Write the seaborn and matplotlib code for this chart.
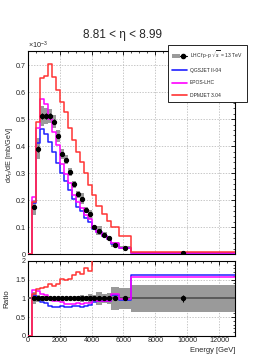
import numpy as np
import pandas as pd
import seaborn as sns
import matplotlib
matplotlib.use("Agg")
import matplotlib.pyplot as plt
from matplotlib.ticker import MultipleLocator, FuncFormatter
from matplotlib.patches import Patch
from matplotlib.lines import Line2D
from matplotlib.legend_handler import HandlerTuple

# ---------------- data ----------------
bin_edges = [0, 250, 500, 750, 1000, 1250, 1500, 1750, 2000, 2250, 2500, 2750,
             3000, 3250, 3500, 3750, 4000, 4250, 4650, 4950, 5200, 5700, 6500, 13000]

# LHCf data (x1e-3 mb/GeV), bins starting at 250 GeV
data_vals = [0.174, 0.391, 0.512, 0.512, 0.512, 0.491, 0.438, 0.372, 0.351, 0.306,
             0.260, 0.222, 0.206, 0.165, 0.148, 0.102, 0.088, 0.073, 0.060, 0.036,
             0.025, 0.003]
data_stat_rel = [0.04, 0.03, 0.02, 0.02, 0.02, 0.02, 0.02, 0.02, 0.02, 0.02,
                 0.02, 0.02, 0.02, 0.03, 0.03, 0.03, 0.04, 0.04, 0.04, 0.05,
                 0.05, 0.10]
data_sys_rel = [0.16, 0.10, 0.07, 0.06, 0.05, 0.05, 0.05, 0.05, 0.05, 0.05,
                0.05, 0.06, 0.10, 0.07, 0.12, 0.08, 0.18, 0.13, 0.14, 0.30,
                0.28, 0.37]

# model predictions (x1e-3 mb/GeV), all bins from 0 GeV
qgsjet = [0.0, 0.190, 0.411, 0.463, 0.445, 0.415, 0.378, 0.338, 0.300, 0.270, 0.239,
          0.205, 0.176, 0.160, 0.134, 0.121, 0.092, 0.081, 0.068, 0.056, 0.039,
          0.024, 0.0049]
epos = [0.0, 0.213, 0.466, 0.575, 0.558, 0.500, 0.452, 0.403, 0.335, 0.298, 0.263,
        0.221, 0.193, 0.173, 0.145, 0.129, 0.097, 0.082, 0.069, 0.056, 0.040,
        0.0245, 0.0047]
dpmjet = [0.0, 0.195, 0.490, 0.652, 0.662, 0.704, 0.655, 0.610, 0.565, 0.527, 0.466,
          0.423, 0.380, 0.343, 0.300, 0.257, 0.220, 0.180, 0.148, 0.125, 0.102,
          0.068, 0.009]

models = ["QGSJET II-04", "EPOS-LHC", "DPMJET 3.04"]
model_colors = ["#1f1fff", "#ff00ff", "#ff3333"]
title = "8.81 < η < 8.99"

# ---------------- figure ----------------
sns.set_theme(style="white")
plt.rcParams["font.family"] = ["Liberation Sans", "DejaVu Sans"]
plt.rcParams["mathtext.fontset"] = "custom"
plt.rcParams["mathtext.rm"] = "Liberation Sans"
plt.rcParams["mathtext.it"] = "Liberation Sans:italic"

edges = np.array(bin_edges, dtype=float)
centers = 0.5 * (edges[:-1] + edges[1:])
d = np.array(data_vals)
dcent = centers[1:]
dwidth = np.diff(edges)[1:]
stat = d * np.array(data_stat_rel)
sys_ = d * np.array(data_sys_rel)

fig = plt.figure(figsize=(2.77, 3.58), dpi=100)
ax1 = fig.add_axes([0.101, 0.2897, 0.747, 0.568])
ax2 = fig.add_axes([0.101, 0.0615, 0.747, 0.2095])

grey = "#9a9a9a"
lw = 1.1

# --- top panel ---
ax1.bar(dcent, 2 * sys_, bottom=d - sys_, width=dwidth, color=grey, linewidth=0, zorder=2)
for vals, col, name in zip([qgsjet, epos, dpmjet], model_colors, models):
    df = pd.DataFrame({"E": centers, "w": vals})
    sns.histplot(data=df, x="E", weights="w", bins=bin_edges, element="step",
                 fill=False, color=col, linewidth=lw, ax=ax1, zorder=3)
ax1.errorbar(dcent, d, yerr=stat, fmt="o", color="black", ms=2.8, elinewidth=0.8,
             capsize=0, zorder=5)

# --- ratio panel ---
ax2.bar(dcent, 2 * np.array(data_sys_rel), bottom=1 - np.array(data_sys_rel),
        width=dwidth, color=grey, linewidth=0, zorder=2)
ax2.axhline(1.0, color="#555555", lw=1.3, zorder=3)
for vals, col in zip([qgsjet, epos, dpmjet], model_colors):
    v = np.array(vals)
    r = np.concatenate([[0.0], v[1:] / d])
    df = pd.DataFrame({"E": centers, "w": r})
    sns.histplot(data=df, x="E", weights="w", bins=bin_edges, element="step",
                 fill=False, color=col, linewidth=lw, ax=ax2, zorder=4)
ax2.errorbar(dcent, np.ones_like(d), yerr=np.array(data_stat_rel), fmt="o", color="black",
             ms=2.8, elinewidth=0.8, capsize=0, zorder=5)

fmt = FuncFormatter(lambda v, p: f"{v:g}")
for ax in (ax1, ax2):
    ax.set_xlim(0, 13000)
    ax.xaxis.set_major_locator(MultipleLocator(2000))
    ax.xaxis.set_minor_locator(MultipleLocator(500))
    ax.tick_params(which="both", direction="in", top=True, right=True,
                   labelsize=5.2, pad=1.5, color="black")
    ax.tick_params(which="major", length=3, width=0.6)
    ax.tick_params(which="minor", length=1.6, width=0.5)
    ax.grid(True, which="major", color="#b0b0b0", linestyle=(0, (2, 2)), linewidth=0.5)
    ax.set_axisbelow(True)
    for s in ax.spines.values():
        s.set_color("black")
        s.set_linewidth(0.8)
    ax.yaxis.set_major_formatter(fmt)
    ax.set_ylabel("")
    ax.set_xlabel("")

ax1.set_ylim(0, 0.753)
ax1.yaxis.set_major_locator(MultipleLocator(0.1))
ax1.yaxis.set_minor_locator(MultipleLocator(0.02))
ax1.tick_params(labelbottom=False)

ax2.set_ylim(0, 2)
ax2.yaxis.set_major_locator(MultipleLocator(0.5))
ax2.yaxis.set_minor_locator(MultipleLocator(0.1))
ax2.xaxis.set_major_formatter(fmt)
ax2.tick_params(axis="x", pad=0.8)

ax1.set_ylabel(r"d$\sigma_{n}$/dE [mb/GeV]", fontsize=5.2)
ax1.yaxis.set_label_coords(-0.065, 0.49)
ax2.set_ylabel("Ratio", fontsize=5.8)
ax2.yaxis.set_label_coords(-0.085, 0.5)
ax2.set_xlabel("Energy [GeV]", fontsize=5.4, ha="right", va="top")
ax2.xaxis.set_label_coords(1.0, -0.15)

ax1.text(0.0, 1.0, r"$\times$10$^{-3}$", transform=ax1.transAxes, ha="left",
         va="bottom", fontsize=5.2)
fig.text(0.444, 0.902, title, ha="center", va="center", fontsize=8.5)

# legend
h_data = (Patch(facecolor=grey, edgecolor="none"),
          Line2D([], [], color="black", marker="o", ms=3, lw=0.8))
h_models = [Line2D([], [], color=c, lw=1.2) for c in model_colors]
leg = fig.legend([h_data] + h_models,
                 [r"LHCf p-p $\sqrt{s}$ = 13 TeV"] + models,
                 loc="upper left", bbox_to_anchor=(0.605, 0.874),
                 fontsize=3.6, frameon=True, fancybox=False, edgecolor="black",
                 framealpha=1, handlelength=3.0, handletextpad=0.5,
                 labelspacing=1.45, borderpad=0.9, borderaxespad=0,
                 handler_map={tuple: HandlerTuple(ndivide=None, pad=0)})
leg.get_frame().set_linewidth(0.6)
leg.set_zorder(10)

fig.savefig("out.png", dpi=100)
